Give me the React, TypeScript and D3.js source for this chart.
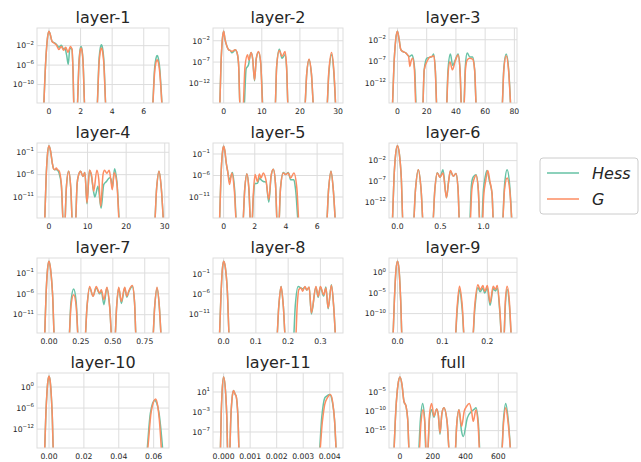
import { curveMonotoneX, line, scaleLinear, scaleLog } from "d3";

type Pt = [number, number];

const WIDTH = 641;
const HEIGHT = 462;
const COL_LEFT = [37, 213, 389];
const COL_RIGHT = [169, 343, 517];
const ROW_TOP = [28, 143, 258, 373];
const PANEL_H = 75;
const HESS_COLOR = "#66c2a5";
const G_COLOR = "#fc8d62";
const GRID = "#dddddd";
const TEXT = "#262626";

const titles = [
  "layer-1", "layer-2", "layer-3", "layer-4", "layer-5", "layer-6",
  "layer-7", "layer-8", "layer-9", "layer-10", "layer-11", "full",
];

const xTickValues = [
  [0, 2, 4, 6],
  [0, 10, 20, 30],
  [0, 20, 40, 60, 80],
  [0, 10, 20, 30],
  [0, 2, 4, 6],
  [0, 0.5, 1],
  [0, 0.25, 0.5, 0.75],
  [0, 0.1, 0.2, 0.3],
  [0, 0.1, 0.2],
  [0, 0.02, 0.04, 0.06],
  [0, 0.001, 0.002, 0.003, 0.004],
  [0, 200, 400, 600],
];

const xTickLabels = [
  ["0", "2", "4", "6"],
  ["0", "10", "20", "30"],
  ["0", "20", "40", "60", "80"],
  ["0", "10", "20", "30"],
  ["0", "2", "4", "6"],
  ["0.0", "0.5", "1.0"],
  ["0.00", "0.25", "0.50", "0.75"],
  ["0.0", "0.1", "0.2", "0.3"],
  ["0.0", "0.1", "0.2"],
  ["0.00", "0.02", "0.04", "0.06"],
  ["0.000", "0.001", "0.002", "0.003", "0.004"],
  ["0", "200", "400", "600"],
];

const yTickValues = [
  [1e-2, 1e-6, 1e-10],
  [1e-2, 1e-7, 1e-12],
  [1e-2, 1e-7, 1e-12],
  [1e-1, 1e-6, 1e-11],
  [1e-1, 1e-6, 1e-11],
  [1e-2, 1e-7, 1e-12],
  [1e-1, 1e-6, 1e-11],
  [1e-1, 1e-6, 1e-11],
  [1, 1e-5, 1e-10],
  [1, 1e-6, 1e-12],
  [1e1, 1e-3, 1e-7],
  [1e-5, 1e-10, 1e-15],
];

const xDomains: Pt[] = [
  [-0.76, 7.6],
  [-2.8, 31.3],
  [-5.8, 81.8],
  [-3.1, 31.1],
  [-0.68, 7.66],
  [-0.098, 1.39],
  [-0.094, 0.94],
  [-0.033, 0.37],
  [-0.019, 0.266],
  [-0.0069, 0.0688],
  [-0.0004, 0.0045],
  [-67, 714],
];

const yDomains: Pt[] = [
  [1.6e-14, 43],
  [2.5e-17, 9.8],
  [2e-17, 5.4],
  [2e-16, 12],
  [1.3e-16, 36],
  [1.3e-16, 186],
  [4e-16, 400],
  [1.8e-16, 1000],
  [2e-15, 2950],
  [4e-18, 1e4],
  [6.3e-11, 6.3e4],
  [3.2e-20, 0.81],
];

const layer1Hess: Pt[] = [
  [-0.36, 1e-17], [-0.2, 1.6e-5], [-0.1, 0.3], [0, 9], [0.08, 2], [0.19, 8e-2], [0.32, 4e-2],
  [0.46, 2e-2], [0.63, 5e-3], [0.78, 1.2e-2], [0.93, 2e-3], [1.0, 3e-3], [1.12, 1e-4],
  [1.22, 1.5e-6], [1.32, 3e-3], [1.45, 2e-3], [1.52, 1e-7], [1.6, 1e-17],
  [1.75, 1e-17], [1.91, 1.6e-5], [1.97, 1.6e-3], [2.03, 7e-3], [2.09, 1.6e-3], [2.15, 1.6e-5], [2.3, 1e-17],
  [3.0, 1e-17], [3.18, 4e-5], [3.25, 3.5e-3], [3.32, 1.6e-2], [3.39, 3.5e-3], [3.46, 4e-5], [3.65, 1e-17],
  [6.5, 1e-17], [6.7, 5.5e-7], [6.775, 2.5e-5], [6.85, 9e-5], [6.925, 2.5e-5], [7.0, 5.5e-7], [7.2, 1e-17],
];
const layer1G: Pt[] = [
  [-0.36, 1e-17], [-0.2, 1.6e-5], [-0.1, 0.3], [0, 9], [0.08, 2], [0.19, 8e-2], [0.32, 3.5e-2],
  [0.46, 1.6e-2], [0.63, 1.6e-3], [0.78, 7e-3], [0.93, 1.1e-3], [1.06, 5e-3], [1.2, 4e-4],
  [1.35, 7e-3], [1.46, 1.6e-3], [1.52, 1e-7], [1.6, 1e-17],
  [1.75, 1e-17], [1.91, 8e-6], [1.97, 8e-4], [2.03, 3.3e-3], [2.09, 8e-4], [2.15, 8e-6], [2.3, 1e-17],
  [3.0, 1e-17], [3.18, 7e-6], [3.25, 7e-4], [3.32, 3.2e-3], [3.39, 7e-4], [3.46, 7e-6], [3.65, 1e-17],
  [6.5, 1e-17], [6.7, 8e-8], [6.775, 3.5e-6], [6.85, 1.3e-5], [6.925, 3.5e-6], [7.0, 8e-8], [7.2, 1e-17],
];

const layer2Hess: Pt[] = [
  [-1.1, 1e-20], [-0.7, 4e-8], [-0.35, 2e-2], [0, 1.6], [0.35, 2e-2], [0.87, 4.6e-4], [1.3, 8e-5],
  [1.74, 5e-5], [2.17, 1.5e-5], [2.6, 3e-5], [3.04, 8e-5], [3.5, 1.5e-5], [3.9, 4e-8], [4.4, 1e-20],
  [5.2, 1e-20], [5.9, 3e-9], [6.5, 2e-8], [6.96, 5e-6], [7.2, 1.7e-5], [7.6, 6e-7], [8.1, 4e-12],
  [8.55, 6e-7], [9.13, 2e-5], [9.7, 8e-8], [10.5, 1e-20],
  [13.4, 1e-20], [13.9, 1e-8], [14.6, 1e-4], [15.3, 8e-7], [16.1, 5e-6], [16.5, 5e-9], [17.0, 1e-20],
  [21.1, 1e-20], [21.8, 2.5e-10], [22.4, 4e-7], [23.0, 2.5e-10], [23.8, 1e-20],
  [26.9, 1e-20], [27.6, 3e-10], [28.3, 5e-6], [28.9, 3e-10], [29.5, 1e-20],
];
const layer2G: Pt[] = [
  [-1.1, 1e-20], [-0.7, 4e-8], [-0.35, 2e-2], [0, 1.6], [0.35, 2e-2], [0.87, 4.6e-4], [1.3, 8e-5],
  [1.74, 5e-5], [2.17, 3e-5], [2.6, 5e-5], [3.04, 8e-5], [3.5, 1.8e-5], [3.9, 5e-8], [4.4, 1e-20],
  [4.95, 1e-20], [5.6, 1e-8], [6.26, 5e-6], [6.6, 3e-7], [7.2, 1.7e-5], [7.6, 6e-7], [8.1, 6e-12],
  [8.55, 6e-7], [9.13, 3e-5], [9.7, 1e-7], [10.4, 1e-20],
  [13.4, 1e-20], [13.9, 1e-8], [14.6, 5e-5], [15.3, 2e-6], [16.1, 3e-5], [16.5, 1e-8], [17.0, 1e-20],
  [21.1, 1e-20], [21.8, 3e-10], [22.4, 5e-7], [23.0, 3e-10], [23.8, 1e-20],
  [26.9, 1e-20], [27.6, 1e-9], [28.3, 1.7e-5], [28.9, 1e-9], [29.5, 1e-20],
];

const layer3Hess: Pt[] = [
  [-3.7, 1e-20], [-2.4, 1.3e-8], [-1.2, 1e-2], [0, 0.9], [1.15, 1e-2], [2.3, 5e-5], [3.5, 2e-5],
  [5.8, 8e-6], [6.9, 3e-6], [8.1, 1.3e-6], [9.9, 3e-6], [10.9, 3e-7], [11.8, 1e-9], [13.2, 1e-20],
  [17.0, 1e-20], [18.3, 1e-9], [20.0, 5e-7], [21.9, 8e-7], [23.7, 1.3e-6], [24.7, 5e-6], [25.9, 1e-9], [27.3, 1e-20],
  [33.2, 1e-20], [34.6, 1e-9], [36.2, 5e-6], [37.8, 1e-8], [39.2, 1e-7], [41.5, 5e-6], [42.8, 1e-9], [44.1, 1e-20],
  [45.1, 1e-20], [46.5, 1e-8], [47.7, 8e-6], [49.5, 1e-6], [51.4, 1e-6], [52.8, 1e-9], [54.3, 1e-20],
  [71.2, 1e-20], [72.8, 3e-9], [74.4, 5e-6], [76.0, 3e-9], [77.8, 1e-20],
];
const layer3G: Pt[] = [
  [-3.7, 1e-20], [-2.4, 1.3e-8], [-1.2, 1e-2], [0, 0.9], [1.15, 1e-2], [2.3, 5e-5], [3.5, 2e-5],
  [5.8, 8e-6], [6.9, 3e-6], [7.6, 1.5e-6], [8.5, 6e-9], [9.2, 8e-8], [10.4, 5e-7], [11.6, 1e-9], [12.9, 1e-20],
  [17.0, 1e-20], [18.3, 1e-9], [20.7, 2e-7], [21.9, 8e-7], [23.7, 1.3e-6], [24.9, 1.8e-6], [25.9, 6e-10], [27.2, 1e-20],
  [33.2, 1e-20], [34.6, 1e-10], [35.9, 8e-8], [37.6, 1e-9], [39.5, 1e-7], [41.5, 3e-6], [42.8, 1e-9], [44.1, 1e-20],
  [45.2, 1e-20], [46.5, 1e-9], [47.7, 2e-7], [49.5, 5e-7], [51.4, 3e-7], [52.8, 1e-9], [54.3, 1e-20],
  [71.2, 1e-20], [72.8, 1e-9], [74.4, 1.8e-6], [76.0, 1e-9], [77.8, 1e-20],
];

const layer4Hess: Pt[] = [
  [-1.2, 1e-19], [-0.75, 1e-7], [-0.4, 2.5e-2], [0, 3.1], [0.43, 0.16], [0.86, 4e-4], [1.2, 2e-5],
  [1.5, 1.3e-5], [1.9, 1.5e-5], [2.2, 1e-5], [2.6, 2.5e-6], [3.2, 5e-9], [3.85, 1e-19],
  [4.0, 1e-19], [4.5, 1e-9], [5.1, 5.6e-6], [5.65, 1e-9], [6.2, 1e-19],
  [6.75, 1e-19], [7.3, 1e-8], [7.7, 1e-6], [8.2, 5.6e-6], [8.8, 4e-7], [9.3, 3e-6], [9.85, 3e-13],
  [10.5, 1e-5], [11.0, 5e-7], [11.6, 1e-10], [11.9, 1e-11], [12.7, 2.5e-9], [13.5, 3e-14], [14.2, 6e-9],
  [14.9, 3e-8], [15.7, 2e-7], [16.1, 1e-7], [16.4, 1e-9], [17.0, 2e-5], [17.6, 3e-8], [18.5, 1e-19],
  [27.2, 1e-19], [27.9, 1e-9], [28.5, 5.6e-6], [29.1, 1e-9], [29.8, 1e-19],
];
const layer4G: Pt[] = [
  [-1.2, 1e-19], [-0.75, 1e-7], [-0.4, 2.5e-2], [0, 3.1], [0.43, 0.16], [0.86, 4e-4], [1.2, 2e-5],
  [1.5, 1.3e-5], [1.9, 3e-5], [2.2, 1.3e-5], [2.6, 8e-6], [3.2, 1e-8], [3.85, 1e-19],
  [4.0, 1e-19], [4.5, 1e-9], [5.1, 5.6e-6], [5.65, 1e-9], [6.2, 1e-19],
  [6.75, 1e-19], [7.3, 1e-8], [7.7, 1e-6], [8.2, 5.6e-6], [8.8, 4e-7], [9.3, 3e-6], [9.85, 5e-13],
  [10.5, 1e-5], [11.0, 1e-6], [11.6, 2e-10], [12.4, 1e-5], [12.9, 1e-7], [13.4, 8e-14], [14.0, 1e-6],
  [14.4, 1e-5], [15.0, 2e-6], [15.6, 1e-5], [16.0, 1e-7], [16.4, 4e-10], [16.9, 2.5e-6], [17.6, 1e-8], [18.4, 1e-19],
  [27.2, 1e-19], [27.9, 1e-9], [28.5, 5.6e-6], [29.1, 1e-9], [29.8, 1e-19],
];

const layer5Hess: Pt[] = [
  [-0.28, 1e-19], [-0.17, 5e-7], [-0.085, 0.1], [0, 6], [0.08, 0.5], [0.17, 8e-4], [0.26, 1e-5],
  [0.38, 1e-7], [0.57, 5e-6], [0.7, 1e-9], [0.86, 1e-19],
  [1.2, 1e-19], [1.36, 1e-9], [1.49, 2.5e-6], [1.62, 1e-9], [1.76, 1e-19],
  [1.8, 1e-19], [1.91, 1e-11], [2.02, 1.3e-8], [2.17, 1.5e-8], [2.3, 2.5e-7], [2.4, 1e-7], [2.55, 4e-8],
  [2.72, 3e-8], [2.9, 6e-13], [3.05, 8e-7], [3.19, 3e-5], [3.33, 1e-8], [3.46, 1e-19],
  [3.52, 1e-19], [3.65, 1e-9], [3.83, 5e-6], [3.98, 1.6e-6], [4.15, 5e-6], [4.3, 1e-7], [4.51, 1e-7],
  [4.62, 5e-10], [4.85, 1e-19],
  [6.57, 1e-19], [6.74, 1e-9], [6.89, 1e-5], [7.03, 1e-9], [7.2, 1e-19],
];
const layer5G: Pt[] = [
  [-0.28, 1e-19], [-0.17, 5e-7], [-0.085, 0.1], [0, 6], [0.08, 0.5], [0.17, 8e-4], [0.26, 1e-5],
  [0.38, 8e-9], [0.53, 4e-6], [0.68, 1e-9], [0.86, 1e-19],
  [1.2, 1e-19], [1.36, 1e-9], [1.49, 2.5e-6], [1.62, 1e-9], [1.76, 1e-19],
  [1.79, 1e-19], [1.91, 8e-11], [2.02, 1.6e-6], [2.17, 4e-8], [2.3, 2.2e-6], [2.4, 2.5e-7], [2.55, 4e-6],
  [2.72, 8e-8], [2.9, 2.5e-12], [3.05, 1e-6], [3.19, 3e-5], [3.33, 1e-8], [3.46, 1e-19],
  [3.52, 1e-19], [3.65, 1e-9], [3.83, 4e-6], [3.98, 1.6e-6], [4.15, 4e-6], [4.3, 2.5e-7], [4.51, 4e-6],
  [4.7, 1e-9], [4.88, 1e-19],
  [6.57, 1e-19], [6.74, 1e-9], [6.89, 1e-5], [7.03, 1e-9], [7.2, 1e-19],
];

const layer6Hess: Pt[] = [
  [-0.062, 1e-19], [-0.04, 6e-7], [-0.02, 0.5], [0, 43], [0.022, 0.5], [0.045, 6e-7], [0.068, 1e-19],
  [0.18, 1e-19], [0.21, 1e-9], [0.243, 6.3e-5], [0.275, 1e-9], [0.305, 1e-19],
  [0.405, 1e-19], [0.435, 1e-9], [0.463, 1.2e-5], [0.495, 1e-6], [0.53, 6.3e-5], [0.57, 1e-11],
  [0.595, 1e-7], [0.616, 3e-5], [0.65, 1.6e-6], [0.68, 8e-6], [0.705, 1e-9], [0.725, 1e-19],
  [0.835, 1e-19], [0.86, 1e-8], [0.88, 1e-6], [0.914, 4e-6], [0.94, 1e-9], [0.962, 1e-19],
  [0.975, 1e-19], [1.0, 1e-9], [1.02, 1e-6], [1.04, 4e-5], [1.07, 1e-7], [1.1, 1e-10], [1.12, 1e-19],
  [1.215, 1e-19], [1.245, 1e-8], [1.275, 6.3e-5], [1.305, 1e-8], [1.335, 1e-19],
];
const layer6G: Pt[] = [
  [-0.062, 1e-19], [-0.04, 6e-7], [-0.02, 0.5], [0, 43], [0.022, 0.5], [0.045, 6e-7], [0.068, 1e-19],
  [0.18, 1e-19], [0.21, 1e-9], [0.243, 6.3e-5], [0.275, 1e-9], [0.305, 1e-19],
  [0.405, 1e-19], [0.435, 1e-9], [0.463, 1e-5], [0.495, 1e-6], [0.53, 1e-5], [0.57, 1e-11],
  [0.595, 1e-7], [0.616, 4e-5], [0.65, 1.6e-6], [0.68, 8e-6], [0.705, 1e-9], [0.725, 1e-19],
  [0.84, 1e-19], [0.865, 1e-9], [0.89, 3e-7], [0.914, 3e-6], [0.94, 1e-9], [0.962, 1e-19],
  [0.98, 1e-19], [1.005, 1e-10], [1.025, 1e-7], [1.05, 4e-5], [1.075, 1e-7], [1.1, 1e-10], [1.12, 1e-19],
  [1.215, 1e-19], [1.245, 1e-9], [1.275, 6e-7], [1.305, 1e-9], [1.335, 1e-19],
];

const layer7Hess: Pt[] = [
  [-0.037, 1e-19], [-0.023, 8e-7], [-0.012, 0.5], [0, 63], [0.013, 0.5], [0.028, 8e-7], [0.046, 1e-19],
  [0.152, 1e-19], [0.172, 1e-8], [0.193, 1.4e-5], [0.213, 1e-8], [0.234, 1e-19],
  [0.277, 1e-19], [0.298, 1e-9], [0.318, 3e-5], [0.345, 3e-7], [0.37, 3e-5], [0.396, 1e-6], [0.41, 4e-6],
  [0.43, 2.5e-9], [0.454, 3e-5], [0.475, 1e-9], [0.498, 1e-19],
  [0.512, 1e-19], [0.53, 1e-9], [0.546, 2.5e-5], [0.567, 5e-9], [0.593, 2.5e-5], [0.61, 1.6e-7],
  [0.625, 3e-6], [0.653, 6e-5], [0.67, 1e-8], [0.686, 1e-19],
  [0.808, 1e-19], [0.828, 1e-9], [0.846, 2.5e-5], [0.864, 1e-9], [0.882, 1e-19],
];
const layer7G: Pt[] = [
  [-0.037, 1e-19], [-0.023, 8e-7], [-0.012, 0.5], [0, 63], [0.013, 0.5], [0.028, 8e-7], [0.046, 1e-19],
  [0.152, 1e-19], [0.172, 1e-9], [0.193, 6e-7], [0.213, 1e-9], [0.234, 1e-19],
  [0.277, 1e-19], [0.298, 1e-9], [0.318, 6e-5], [0.345, 2.5e-7], [0.37, 6e-5], [0.396, 1.6e-6], [0.41, 1e-5],
  [0.43, 4e-8], [0.454, 3.6e-5], [0.475, 1e-9], [0.498, 1e-19],
  [0.512, 1e-19], [0.53, 1e-9], [0.546, 3.6e-5], [0.567, 1.6e-8], [0.593, 3.6e-5], [0.61, 2.5e-7],
  [0.625, 5e-6], [0.653, 1e-4], [0.67, 1e-8], [0.686, 1e-19],
  [0.808, 1e-19], [0.828, 1e-9], [0.846, 3.6e-5], [0.864, 1e-9], [0.882, 1e-19],
];

const layer8Hess: Pt[] = [
  [-0.014, 1e-19], [-0.008, 1.6e-6], [-0.004, 1.5], [0, 150], [0.005, 6], [0.011, 3e-5], [0.019, 1e-19],
  [0.163, 1e-19], [0.171, 1e-9], [0.178, 8e-5], [0.185, 1e-9], [0.193, 1e-19],
  [0.215, 1e-19], [0.222, 1e-9], [0.231, 8e-5], [0.24, 3e-5], [0.245, 2e-5], [0.252, 5e-5], [0.258, 1e-5],
  [0.265, 5e-5], [0.272, 1e-11], [0.286, 6e-5], [0.293, 1.6e-7], [0.3, 6e-5], [0.31, 3e-7], [0.317, 6e-5],
  [0.324, 2e-10], [0.334, 2e-4], [0.341, 1e-9], [0.348, 1e-19],
];
const layer8G: Pt[] = [
  [-0.014, 1e-19], [-0.008, 1.6e-6], [-0.004, 1.5], [0, 150], [0.005, 6], [0.011, 3e-5], [0.019, 1e-19],
  [0.163, 1e-19], [0.171, 1e-9], [0.178, 8e-5], [0.185, 1e-9], [0.193, 1e-19],
  [0.222, 1e-19], [0.228, 1e-9], [0.233, 1.3e-5], [0.24, 3e-5], [0.245, 5e-6], [0.252, 8e-5], [0.258, 1e-5],
  [0.265, 6e-5], [0.272, 2e-11], [0.286, 8e-5], [0.293, 2.5e-7], [0.3, 8e-5], [0.31, 6e-7], [0.317, 3e-5],
  [0.324, 3e-10], [0.334, 1.6e-4], [0.341, 1e-9], [0.348, 1e-19],
];

const layer9Hess: Pt[] = [
  [-0.0108, 1e-18], [-0.007, 2e-7], [-0.0035, 3], [0, 460], [0.0035, 3], [0.007, 2e-7], [0.0108, 1e-18],
  [0.127, 1e-18], [0.133, 1e-9], [0.138, 6.3e-5], [0.144, 1e-9], [0.15, 1e-18],
  [0.166, 1e-18], [0.172, 1e-9], [0.179, 2e-4], [0.184, 2e-5], [0.19, 1.6e-4], [0.194, 1e-5], [0.2, 1.6e-4],
  [0.206, 1e-8], [0.213, 1e-4], [0.218, 3e-5], [0.222, 1.6e-4], [0.228, 1e-10], [0.233, 1e-18],
  [0.236, 1e-18], [0.24, 1e-8], [0.244, 8e-5], [0.249, 1e-8], [0.254, 1e-18],
];
const layer9G: Pt[] = [
  [-0.0108, 1e-18], [-0.007, 2e-7], [-0.0035, 3], [0, 460], [0.0035, 3], [0.007, 2e-7], [0.0108, 1e-18],
  [0.127, 1e-18], [0.133, 1e-8], [0.138, 4e-4], [0.144, 1e-8], [0.15, 1e-18],
  [0.166, 1e-18], [0.172, 1e-8], [0.179, 1e-3], [0.184, 6e-5], [0.19, 6e-4], [0.194, 2.5e-5], [0.2, 6e-4],
  [0.206, 4e-8], [0.213, 4e-4], [0.218, 8e-5], [0.222, 6e-4], [0.228, 4e-10], [0.233, 1e-18],
  [0.236, 1e-18], [0.24, 8e-8], [0.244, 4e-4], [0.249, 1e-7], [0.254, 1e-18],
];

const layer10Hess: Pt[] = [
  [-0.0027, 1e-21], [-0.0018, 3e-8], [-0.0012, 2e-2], [-0.0006, 75], [0, 1100], [0.0006, 75],
  [0.0012, 2e-2], [0.0018, 3e-8], [0.0027, 1e-21],
  [0.0553, 1e-21], [0.0581, 3e-8], [0.0594, 2.2e-5], [0.0606, 1.6e-4], [0.0618, 2.2e-5],
  [0.0631, 3e-8], [0.0657, 1e-21],
];
const layer10G: Pt[] = [
  [-0.0027, 1e-21], [-0.0018, 3e-8], [-0.0012, 2e-2], [-0.0006, 75], [0, 1100], [0.0006, 75],
  [0.0012, 2e-2], [0.0018, 3e-8], [0.0027, 1e-21],
  [0.0556, 1e-21], [0.0586, 1e-7], [0.0599, 5e-5], [0.0611, 3.7e-4], [0.0623, 5e-6],
  [0.0633, 2.5e-10], [0.0648, 1e-21],
];

const layer11Hess: Pt[] = [
  [-0.00013, 1e-13], [-0.00009, 4e-4], [-0.00006, 5], [0, 1e4], [0.00008, 3], [0.00012, 1.3e-4], [0.000165, 1e-13],
  [0.000215, 1e-13], [0.000275, 1.6e-4], [0.000325, 1.1], [0.000375, 21], [0.00043, 4], [0.000475, 1.3],
  [0.00054, 1e-4], [0.0006, 1e-13],
  [0.00357, 1e-13], [0.0037, 1e-4], [0.00381, 0.6], [0.003875, 1.35], [0.004, 3], [0.0041, 0.1],
  [0.00418, 3e-5], [0.00426, 1e-13],
];
const layer11G: Pt[] = [
  [-0.00013, 1e-13], [-0.00009, 4e-4], [-0.00006, 5], [0, 1e4], [0.00008, 3], [0.00012, 1.3e-4], [0.000165, 1e-13],
  [0.000215, 1e-13], [0.000275, 1.6e-4], [0.000325, 1.1], [0.000375, 21], [0.00043, 4], [0.000475, 1.3],
  [0.00054, 1e-4], [0.0006, 1e-13],
  [0.00358, 1e-13], [0.003725, 1.6e-5], [0.00381, 3e-2], [0.00392, 0.8], [0.004025, 3], [0.004125, 2.5e-2],
  [0.004185, 1.3e-5], [0.00426, 1e-13],
];

const fullHess: Pt[] = [
  [-39, 1e-23], [-25, 3e-10], [-12, 9e-4], [0, 7.6e-2], [12, 9e-4], [24, 4e-8], [37, 2e-9], [47, 1e-12], [59, 1e-23],
  [109, 1e-23], [125, 1e-12], [138, 1e-8], [150, 1e-12], [161, 1e-23],
  [166, 1e-23], [180, 1e-12], [193, 2.5e-10], [207, 3e-12], [224, 4e-10], [234, 1e-11], [244, 1e-16],
  [256, 3e-11], [268, 8e-10], [288, 1e-13], [306, 1e-23],
  [333, 1e-23], [347, 1e-13], [360, 2.5e-10], [375, 1e-15], [386, 3e-17], [411, 2e-12], [437, 1e-10],
  [452, 3e-10], [464, 8e-10], [478, 1e-13], [492, 1e-23],
  [617, 1e-23], [632, 1e-12], [645, 1e-8], [660, 1e-12], [679, 1e-23],
];
const fullG: Pt[] = [
  [-39, 1e-23], [-25, 3e-10], [-12, 9e-4], [0, 7.6e-2], [12, 9e-4], [24, 4e-8], [37, 2e-9], [47, 1e-12], [59, 1e-23],
  [113, 1e-23], [128, 1e-13], [140, 2.5e-10], [152, 1e-13], [163, 1e-23],
  [166, 1e-23], [180, 1e-11], [193, 1e-8], [207, 5e-12], [224, 4e-10], [234, 1e-11], [244, 2.5e-16],
  [256, 3e-11], [268, 8e-10], [288, 1e-13], [306, 1e-23],
  [333, 1e-23], [347, 1e-13], [360, 2.5e-10], [376, 1.3e-14], [392, 1e-10], [407, 2e-9], [423, 1e-8],
  [437, 1e-10], [447, 2.5e-13], [464, 2.5e-10], [476, 1e-13], [490, 1e-23],
  [617, 1e-23], [632, 1e-13], [645, 8e-10], [660, 1e-13], [679, 1e-23],
];

const hessSeries = [
  layer1Hess, layer2Hess, layer3Hess, layer4Hess, layer5Hess, layer6Hess,
  layer7Hess, layer8Hess, layer9Hess, layer10Hess, layer11Hess, fullHess,
];
const gSeries = [
  layer1G, layer2G, layer3G, layer4G, layer5G, layer6G,
  layer7G, layer8G, layer9G, layer10G, layer11G, fullG,
];

const legendLabels = ["Hess", "G"];
const legendColors = [HESS_COLOR, G_COLOR];

function Panel({ index }: { index: number }) {
  const col = index % 3;
  const row = Math.floor(index / 3);
  const left = COL_LEFT[col];
  const right = COL_RIGHT[col];
  const top = ROW_TOP[row];
  const bottom = top + PANEL_H;

  const x = scaleLinear().domain(xDomains[index]).range([left, right]);
  const y = scaleLog().domain(yDomains[index]).range([bottom, top]);
  const path = line<Pt>()
    .x((d) => x(d[0]))
    .y((d) => y(d[1]))
    .curve(curveMonotoneX);

  const clipId = `clip-${index}`;

  return (
    <g>
      <defs>
        <clipPath id={clipId}>
          <rect x={left} y={top} width={right - left} height={bottom - top} />
        </clipPath>
      </defs>
      {xTickValues[index].map((v) => (
        <line key={`gx${v}`} x1={x(v)} x2={x(v)} y1={top} y2={bottom} stroke={GRID} strokeWidth={1} />
      ))}
      {yTickValues[index].map((v) => (
        <line key={`gy${v}`} x1={left} x2={right} y1={y(v)} y2={y(v)} stroke={GRID} strokeWidth={1} />
      ))}
      <g clipPath={`url(#${clipId})`} fill="none" strokeWidth={1.5} strokeLinejoin="round">
        <path d={path(hessSeries[index]) ?? ""} stroke={HESS_COLOR} />
        <path d={path(gSeries[index]) ?? ""} stroke={G_COLOR} />
      </g>
      <rect
        x={left}
        y={top}
        width={right - left}
        height={bottom - top}
        fill="none"
        stroke={GRID}
        strokeWidth={1}
      />
      <text x={(left + right) / 2} y={top - 5} textAnchor="middle" fontSize={16} fill={TEXT}>
        {titles[index]}
      </text>
      {xTickValues[index].map((v, i) => (
        <text key={`tx${v}`} x={x(v)} y={bottom + 11} textAnchor="middle" fontSize={7.7} fill={TEXT}>
          {xTickLabels[index][i]}
        </text>
      ))}
      {yTickValues[index].map((v) => {
        const exp = Math.round(Math.log10(v));
        const label = exp < 0 ? `\u2212${-exp}` : `${exp}`;
        return (
          <text key={`ty${v}`} x={left - 3} y={y(v) + 2.8} textAnchor="end" fontSize={7.7} fill={TEXT}>
            10
            <tspan fontSize={5.4} dy={-3.6}>
              {label}
            </tspan>
          </text>
        );
      })}
    </g>
  );
}

function Legend() {
  const boxX = 540;
  const boxY = 158;
  return (
    <g>
      <rect x={boxX} y={boxY} width={98} height={56} rx={3} fill="#ffffff" stroke="#cccccc" strokeWidth={1} />
      {legendLabels.map((label, i) => {
        const cy = boxY + 15 + i * 26;
        return (
          <g key={label}>
            <line x1={boxX + 7} x2={boxX + 39} y1={cy} y2={cy} stroke={legendColors[i]} strokeWidth={1.5} />
            <text x={boxX + 52} y={cy + 5.5} fontSize={16} fontStyle="italic" fill={TEXT}>
              {label}
            </text>
          </g>
        );
      })}
    </g>
  );
}

export default function App() {
  return (
    <svg
      width={WIDTH}
      height={HEIGHT}
      viewBox={`0 0 ${WIDTH} ${HEIGHT}`}
      style={{ position: "absolute", left: 0, top: 0 }}
      fontFamily="DejaVu Sans"
    >
      <rect width={WIDTH} height={HEIGHT} fill="#ffffff" />
      {titles.map((t, i) => (
        <Panel key={t} index={i} />
      ))}
      <Legend />
    </svg>
  );
}
